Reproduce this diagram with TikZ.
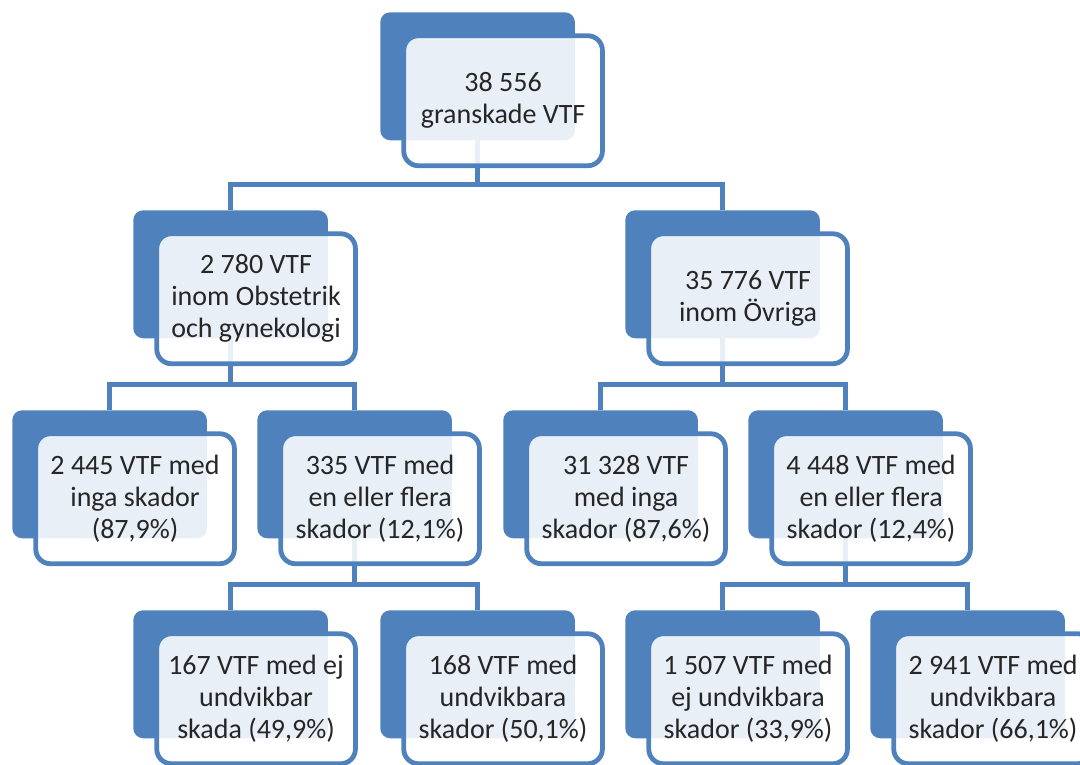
\documentclass[tikz,border=0pt]{standalone}
\usepackage{fontspec}
\setmainfont{Carlito}
\usetikzlibrary{backgrounds}
\definecolor{boxblue}{HTML}{4F81BD}
\tikzset{
	backbox/.style={fill=boxblue, rounded corners=7.5pt, minimum width=146pt, minimum height=96pt, anchor=north west, inner sep=0pt},
	frontbox/.style={draw=boxblue, line width=3.6pt, fill=white, fill opacity=0.88, text opacity=1, text=black!85, rounded corners=11pt, minimum width=149pt, minimum height=97.5pt, anchor=north west, align=center, inner sep=0pt, font=\fontsize{21}{24}\selectfont},
	link/.style={draw=boxblue, line width=3.6pt}
}

\begin{document}
\begin{tikzpicture}[x=0.75pt, y=-0.75pt]

	\useasboundingbox (0,0) rectangle (1080,764);

	\foreach \n/\x/\y/\t in {top/380/12/{38 556\\granskade VTF},
		obst/133/210/{2 780 VTF\\inom Obstetrik\\och gynekologi},
		ovr/625/210/{35 776 VTF\\inom Övriga},
		inga1/12/410/{2 445 VTF med\\inga skador\\(87,9\%)},
		skad1/257/410/{335 VTF med\\en eller flera\\skador (12,1\%)},
		inga2/503/410/{31 328 VTF\\med inga\\skador (87,6\%)},
		skad2/748/410/{4 448 VTF med\\en eller flera\\skador (12,4\%)},
		ej1/133/610/{167 VTF med ej\\undvikbar\\skada (49,9\%)},
		und1/380/610/{168 VTF med\\undvikbara\\skador (50,1\%)},
		ej2/625/610/{1 507 VTF med\\ej undvikbara\\skador (33,9\%)},
		und2/870/610/{2 941 VTF med\\undvikbara\\skador (66,1\%)}}
	{
		\node[backbox] (\n-b) at (\x,\y) {};
		\node[frontbox] (\n) at ([xshift=16pt,yshift=-16pt]\n-b.north west) {\t};
	}

	\begin{scope}[on background layer]
		\foreach \p/\c in {top/obst,top/ovr,obst/inga1,obst/skad1,ovr/inga2,ovr/skad2,skad1/ej1,skad1/und1,skad2/ej2,skad2/und2}
		{
			\draw[link] (\p-b.center) |- ([yshift=19pt]\c-b.north) -- (\c-b.north);
		}
	\end{scope}

\end{tikzpicture}
\end{document}
